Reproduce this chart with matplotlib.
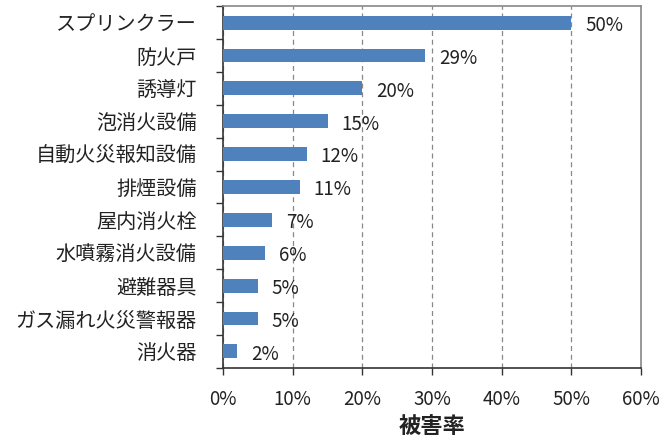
import matplotlib
matplotlib.use("Agg")
import matplotlib.pyplot as plt
import numpy as np
from matplotlib.ticker import FixedLocator, PercentFormatter

plt.rcParams['font.family'] = ['Noto Sans CJK JP', 'DejaVu Sans']

categories = ["スプリンクラー", "防火戸", "誘導灯", "泡消火設備", "自動火災報知設備",
              "排煙設備", "屋内消火栓", "水噴霧消火設備", "避難器具", "ガス漏れ火災警報器", "消火器"]
values = [50, 29, 20, 15, 12, 11, 7, 6, 5, 5, 2]
xticks = [0, 10, 20, 30, 40, 50, 60]

fig = plt.figure(figsize=(6.72, 4.41), dpi=100)
ax = fig.add_axes([0.332, 0.166, 0.622, 0.820])

n = len(categories)
y = np.arange(n)
ax.barh(y, values, height=0.42, color='#4F81BD', zorder=3)
ax.set_ylim(n - 0.5, -0.5)
ax.set_xlim(0, 60)

for yi, v in zip(y, values):
    ax.annotate(f"{v}%", (v, yi), xytext=(10, -2), textcoords='offset points',
                va='center', ha='left', fontsize=13.5, color='#222222', zorder=4)

ax.set_yticks(y)
ax.set_yticklabels(categories, fontsize=14.5, color='#222222')
ax.yaxis.set_minor_locator(FixedLocator(np.arange(-0.5, n, 1.0)))
ax.tick_params(axis='y', which='major', length=0, pad=19)
ax.tick_params(axis='y', which='minor', length=5, width=1, color='#333333', direction='out')

ax.set_xticks(xticks)
ax.xaxis.set_major_formatter(PercentFormatter(decimals=0))
ax.tick_params(axis='x', which='major', length=5, width=1, color='#333333', direction='out',
               labelsize=13.5, labelcolor='#222222', pad=10)
ax.grid(axis='x', linestyle=(0, (4, 3)), color='#888888', linewidth=0.9, zorder=1)

ax.set_xlabel("被害率", fontsize=16, fontweight='bold', color='#222222', labelpad=4)

for s in ['left', 'bottom']:
    ax.spines[s].set_color('#333333')
    ax.spines[s].set_linewidth(1.2)
for s in ['top', 'right']:
    ax.spines[s].set_color('#888888')
    ax.spines[s].set_linewidth(1.2)

fig.savefig("out.png", dpi=100)
